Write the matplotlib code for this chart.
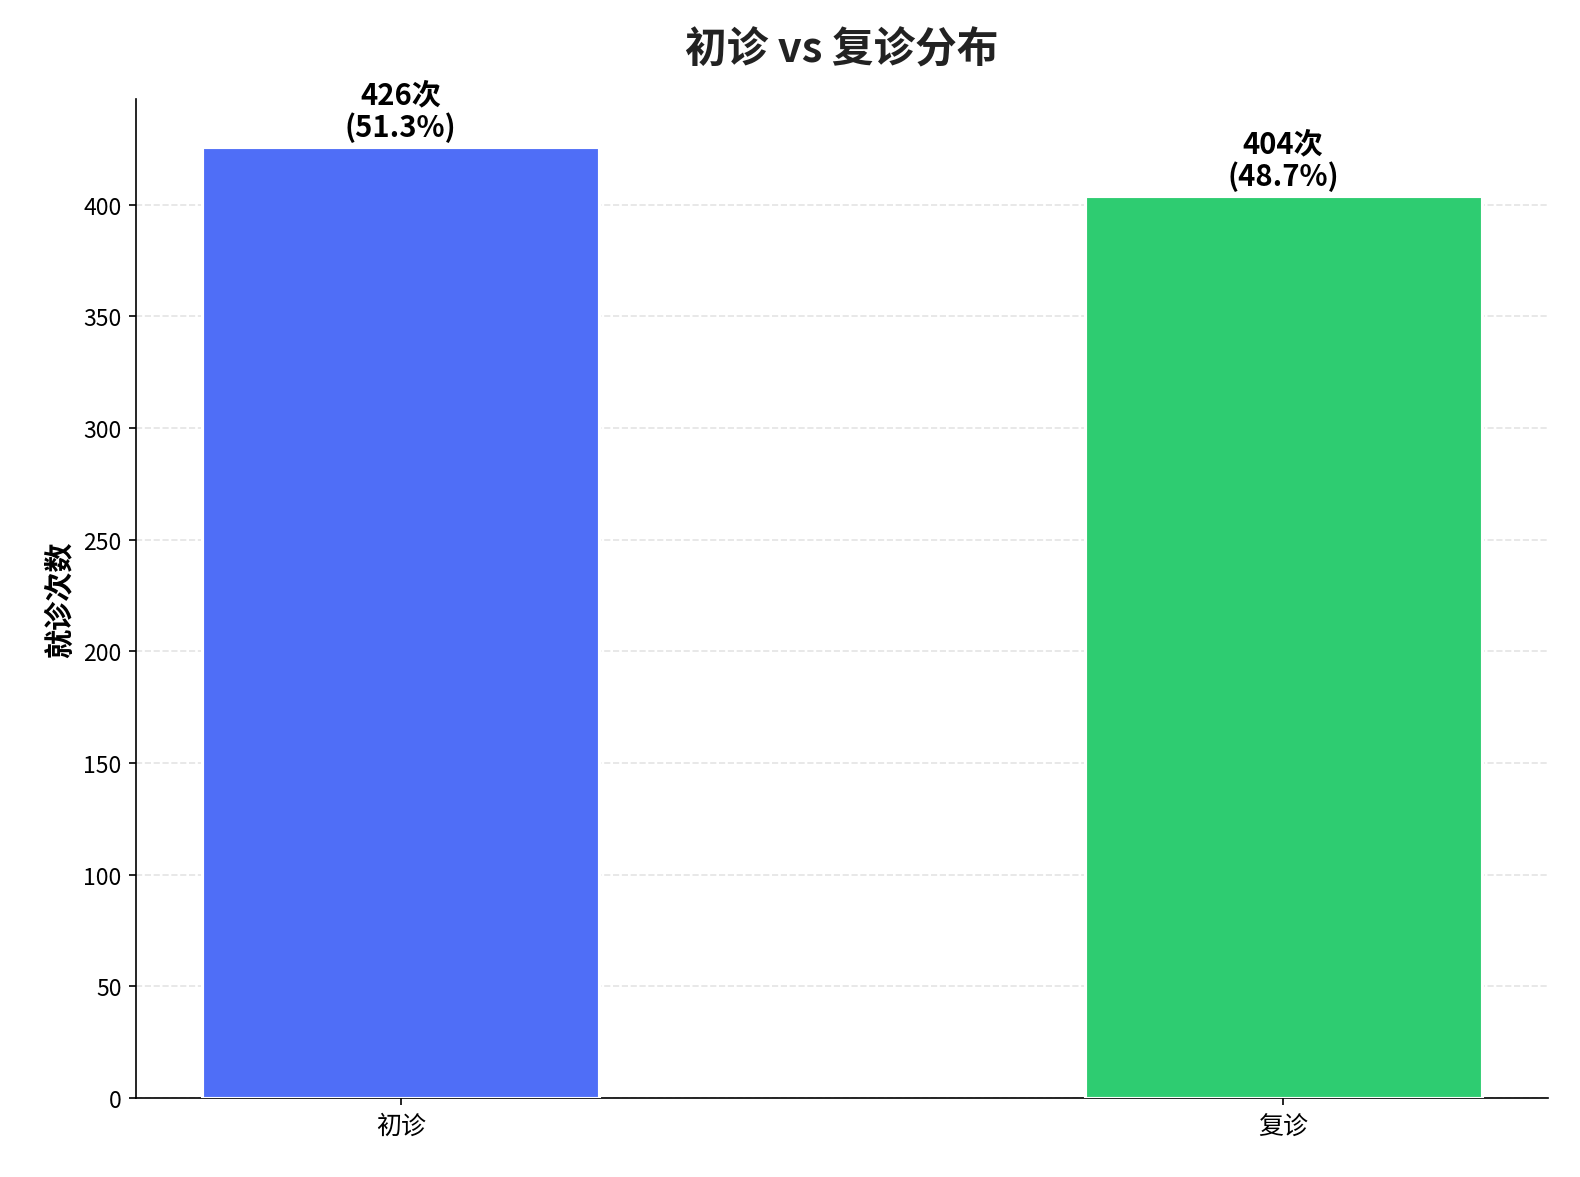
import matplotlib
matplotlib.use("Agg")
import matplotlib.pyplot as plt

plt.rcParams['font.family'] = ['Noto Sans CJK SC', 'DejaVu Sans']

categories = ['初诊', '复诊']
counts = [426, 404]
colors = ['#4F6EF7', '#2ECC71']

total = sum(counts)
fig = plt.figure(figsize=(10.54, 7.853), dpi=150)
ax = fig.add_axes([136/1581, 1-1099/1178, (1548-136)/1581, (1099-100)/1178])
x = range(len(categories))
bars = ax.bar(x, counts, width=0.45, color=colors, edgecolor='white', linewidth=1.5, zorder=3)
for b, c in zip(bars, counts):
    ax.text(b.get_x()+b.get_width()/2, c+2, f'{c}次\n({c/total*100:.1f}%)',
            ha='center', va='bottom', fontsize=14, fontweight='bold', linespacing=1.1)
ax.set_xticks(list(x))
ax.set_xticklabels(categories, fontsize=12)
ax.tick_params(axis='y', labelsize=11)
ax.set_xlim(-0.3, 1.3)
ax.set_ylim(0, 447.3)
ax.set_ylabel('就诊次数', fontsize=14, fontweight='bold')
ax.set_title('初诊 vs 复诊分布', fontsize=20, fontweight='bold', pad=18, color='#222222')
ax.yaxis.grid(True, linestyle='--', color='#dddddd', alpha=0.8, zorder=0)
ax.spines['top'].set_visible(False)
ax.spines['right'].set_visible(False)
fig.savefig('out.png', dpi=150)
